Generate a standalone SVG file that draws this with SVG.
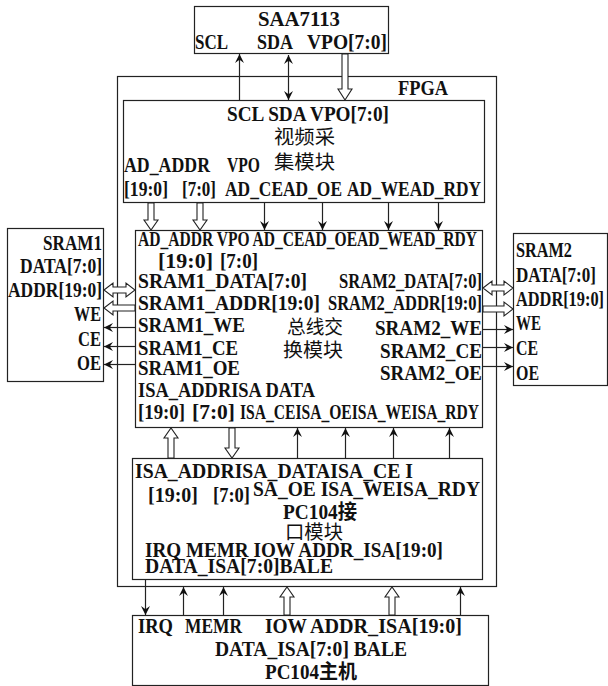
<svg xmlns="http://www.w3.org/2000/svg" width="608" height="686" viewBox="0 0 608 686">
<style>
.box{fill:#fff;stroke:#222;stroke-width:1.2}
.ln{fill:none;stroke:#222;stroke-width:1.2}
.ho{fill:#fff;stroke:#222;stroke-width:1.1}
text{font-family:"Liberation Serif","Noto Sans CJK SC",serif;font-size:20px;font-weight:bold;fill:#111}
.c{font-family:"Noto Sans CJK SC",sans-serif;font-weight:normal;font-size:19px}
</style>
<defs>
<marker id="a" viewBox="0 0 10 10" refX="10" refY="5" markerUnits="userSpaceOnUse" markerWidth="9" markerHeight="9" orient="auto-start-reverse">
<path d="M0,0 L10,5 L0,10 L3.5,5 z" fill="#111"/>
</marker>
</defs>
<rect width="608" height="686" fill="#fff"/>
<g id="fpga">
<rect class="box" x="117.5" y="76.5" width="379" height="510"/>
<text x="398" y="95" textLength="50" lengthAdjust="spacingAndGlyphs">FPGA</text>
</g>
<g id="saa7113">
<rect class="box" x="194.5" y="6.5" width="194" height="47"/>
<text x="258" y="26" textLength="82" lengthAdjust="spacingAndGlyphs">SAA7113</text>
<text x="195" y="49" textLength="33" lengthAdjust="spacingAndGlyphs">SCL</text>
<text x="257" y="49" textLength="36" lengthAdjust="spacingAndGlyphs">SDA</text>
<text x="307" y="49" textLength="80" lengthAdjust="spacingAndGlyphs">VPO[7:0]</text>
</g>
<g id="video">
<rect class="box" x="123.5" y="100.5" width="361" height="102"/>
<text x="227" y="121" textLength="162" lengthAdjust="spacingAndGlyphs">SCL SDA VPO[7:0]</text>
<text class="c" x="274" y="144" textLength="61" lengthAdjust="spacingAndGlyphs">视频采</text>
<text class="c" x="274" y="169" textLength="61" lengthAdjust="spacingAndGlyphs">集模块</text>
<text x="124" y="172" textLength="86" lengthAdjust="spacingAndGlyphs">AD_ADDR</text>
<text x="227" y="172" textLength="33" lengthAdjust="spacingAndGlyphs">VPO</text>
<text x="124" y="196" textLength="44" lengthAdjust="spacingAndGlyphs">[19:0]</text>
<text x="182" y="196" textLength="34" lengthAdjust="spacingAndGlyphs">[7:0]</text>
<text x="225" y="196" textLength="117" lengthAdjust="spacingAndGlyphs">AD_CEAD_OE</text>
<text x="347" y="196" textLength="134" lengthAdjust="spacingAndGlyphs">AD_WEAD_RDY</text>
</g>
<g id="bus">
<rect class="box" x="135.5" y="230.5" width="347" height="197"/>
<text x="138" y="246" textLength="339" lengthAdjust="spacingAndGlyphs">AD_ADDR VPO AD_CEAD_OEAD_WEAD_RDY</text>
<text x="158" y="268" textLength="55" lengthAdjust="spacingAndGlyphs">[19:0]</text>
<text x="220" y="268" textLength="38" lengthAdjust="spacingAndGlyphs">[7:0]</text>
<text x="138" y="288" textLength="169" lengthAdjust="spacingAndGlyphs">SRAM1_DATA[7:0]</text>
<text x="339" y="288" textLength="143" lengthAdjust="spacingAndGlyphs">SRAM2_DATA[7:0]</text>
<text x="138" y="310" textLength="182" lengthAdjust="spacingAndGlyphs">SRAM1_ADDR[19:0]</text>
<text x="328" y="310" textLength="154" lengthAdjust="spacingAndGlyphs">SRAM2_ADDR[19:0]</text>
<text x="138" y="332" textLength="107" lengthAdjust="spacingAndGlyphs">SRAM1_WE</text>
<text class="c" x="287" y="334" textLength="56" lengthAdjust="spacingAndGlyphs">总线交</text>
<text x="375" y="335" textLength="107" lengthAdjust="spacingAndGlyphs">SRAM2_WE</text>
<text x="138" y="355" textLength="100" lengthAdjust="spacingAndGlyphs">SRAM1_CE</text>
<text class="c" x="283" y="357" textLength="60" lengthAdjust="spacingAndGlyphs">换模块</text>
<text x="380" y="358" textLength="102" lengthAdjust="spacingAndGlyphs">SRAM2_CE</text>
<text x="138" y="375" textLength="102" lengthAdjust="spacingAndGlyphs">SRAM1_OE</text>
<text x="380" y="380" textLength="102" lengthAdjust="spacingAndGlyphs">SRAM2_OE</text>
<text x="138" y="397" textLength="177" lengthAdjust="spacingAndGlyphs">ISA_ADDRISA DATA</text>
<text x="138" y="419" textLength="47" lengthAdjust="spacingAndGlyphs">[19:0]</text>
<text x="192" y="419" textLength="43" lengthAdjust="spacingAndGlyphs">[7:0]</text>
<text x="240" y="419" textLength="239" lengthAdjust="spacingAndGlyphs">ISA_CEISA_OEISA_WEISA_RDY</text>
</g>
<g id="sram1">
<rect class="box" x="7.5" y="228.5" width="96" height="153"/>
<text x="43" y="250" textLength="59" lengthAdjust="spacingAndGlyphs">SRAM1</text>
<text x="20" y="273" textLength="82" lengthAdjust="spacingAndGlyphs">DATA[7:0]</text>
<text x="8" y="297" textLength="94" lengthAdjust="spacingAndGlyphs">ADDR[19:0]</text>
<text x="74" y="321" textLength="27" lengthAdjust="spacingAndGlyphs">WE</text>
<text x="78" y="346" textLength="23" lengthAdjust="spacingAndGlyphs">CE</text>
<text x="77" y="370" textLength="24" lengthAdjust="spacingAndGlyphs">OE</text>
</g>
<g id="sram2">
<rect class="box" x="513.5" y="233.5" width="94" height="152"/>
<text x="516" y="257" textLength="56" lengthAdjust="spacingAndGlyphs">SRAM2</text>
<text x="516" y="282" textLength="80" lengthAdjust="spacingAndGlyphs">DATA[7:0]</text>
<text x="516" y="306" textLength="88" lengthAdjust="spacingAndGlyphs">ADDR[19:0]</text>
<text x="516" y="330" textLength="25" lengthAdjust="spacingAndGlyphs">WE</text>
<text x="516" y="355" textLength="22" lengthAdjust="spacingAndGlyphs">CE</text>
<text x="516" y="380" textLength="23" lengthAdjust="spacingAndGlyphs">OE</text>
</g>
<g id="pc104if">
<rect class="box" x="132.5" y="458.5" width="350" height="121"/>
<text x="135" y="478" textLength="278" lengthAdjust="spacingAndGlyphs">ISA_ADDRISA_DATAISA_CE I</text>
<text x="148" y="502" textLength="50" lengthAdjust="spacingAndGlyphs">[19:0]</text>
<text x="213" y="502" textLength="37" lengthAdjust="spacingAndGlyphs">[7:0]</text>
<text x="253" y="496" textLength="227" lengthAdjust="spacingAndGlyphs">SA_OE ISA_WEISA_RDY</text>
<text x="283" y="519" textLength="74" lengthAdjust="spacingAndGlyphs">PC104接</text>
<text class="c" x="285" y="539" textLength="58" lengthAdjust="spacingAndGlyphs">口模块</text>
<text x="145" y="557" textLength="298" lengthAdjust="spacingAndGlyphs">IRQ MEMR IOW ADDR_ISA[19:0]</text>
<text x="145" y="573" textLength="188" lengthAdjust="spacingAndGlyphs">DATA_ISA[7:0]BALE</text>
</g>
<g id="pc104host">
<rect class="box" x="132.5" y="615.5" width="356" height="70"/>
<text x="138" y="633" textLength="35" lengthAdjust="spacingAndGlyphs">IRQ</text>
<text x="185" y="633" textLength="57" lengthAdjust="spacingAndGlyphs">MEMR</text>
<text x="265" y="633" textLength="42" lengthAdjust="spacingAndGlyphs">IOW</text>
<text x="310" y="633" textLength="152" lengthAdjust="spacingAndGlyphs">ADDR_ISA[19:0]</text>
<text x="215" y="656" textLength="192" lengthAdjust="spacingAndGlyphs">DATA_ISA[7:0] BALE</text>
<text x="265" y="679" textLength="92" lengthAdjust="spacingAndGlyphs">PC104主机</text>
</g>
<g id="connectors">
<line class="ln" x1="239.5" y1="100" x2="239.5" y2="54" marker-end="url(#a)"/>
<line class="ln" x1="288.5" y1="55" x2="288.5" y2="100" marker-start="url(#a)" marker-end="url(#a)"/>
<polygon class="ho" points="342,54 348,54 348,89 352,89 345,100 338,89 342,89"/>
<polygon class="ho" points="148,203 154,203 154,220 158,220 151,230 144,220 148,220"/>
<polygon class="ho" points="197,203 203,203 203,220 207,220 200,230 193,220 197,220"/>
<line class="ln" x1="264.5" y1="203" x2="264.5" y2="230" marker-end="url(#a)"/>
<line class="ln" x1="322.5" y1="203" x2="322.5" y2="230" marker-end="url(#a)"/>
<line class="ln" x1="388.5" y1="203" x2="388.5" y2="230" marker-end="url(#a)"/>
<line class="ln" x1="438.5" y1="203" x2="438.5" y2="230" marker-end="url(#a)"/>
<polygon class="ho" points="104,290 113,283 113,287 126,287 126,283 135,290 126,297 126,293 113,293 113,297"/>
<polygon class="ho" points="104,308 113,301 113,305 135,305 135,311 113,311 113,315"/>
<line class="ln" x1="135" y1="327.5" x2="104" y2="327.5" marker-end="url(#a)"/>
<line class="ln" x1="135" y1="346.5" x2="104" y2="346.5" marker-end="url(#a)"/>
<line class="ln" x1="135" y1="364.5" x2="104" y2="364.5" marker-end="url(#a)"/>
<polygon class="ho" points="483,288 492,281 492,285 504,285 504,281 513,288 504,295 504,291 492,291 492,295"/>
<polygon class="ho" points="513,309 504,302 504,306 483,306 483,312 504,312 504,316"/>
<line class="ln" x1="483" y1="329.5" x2="513" y2="329.5" marker-end="url(#a)"/>
<line class="ln" x1="483" y1="347.5" x2="513" y2="347.5" marker-end="url(#a)"/>
<line class="ln" x1="483" y1="366.5" x2="513" y2="366.5" marker-end="url(#a)"/>
<polygon class="ho" points="168,458 174,458 174,438 178,438 171,428 164,438 168,438"/>
<polygon class="ho" points="229,428 235,428 235,448 239,448 232,458 225,448 229,448"/>
<line class="ln" x1="297.5" y1="458" x2="297.5" y2="428" marker-end="url(#a)"/>
<line class="ln" x1="345.5" y1="458" x2="345.5" y2="428" marker-end="url(#a)"/>
<line class="ln" x1="393.5" y1="458" x2="393.5" y2="428" marker-end="url(#a)"/>
<line class="ln" x1="449.5" y1="458" x2="449.5" y2="428" marker-end="url(#a)"/>
<line class="ln" x1="145.5" y1="580" x2="145.5" y2="615" marker-end="url(#a)"/>
<line class="ln" x1="183.5" y1="615" x2="183.5" y2="587" marker-end="url(#a)"/>
<line class="ln" x1="223.5" y1="615" x2="223.5" y2="587" marker-end="url(#a)"/>
<polygon class="ho" points="284,615 290,615 290,597 294,597 287,587 280,597 284,597"/>
<polygon class="ho" points="389,615 395,615 395,597 399,597 392,587 385,597 389,597"/>
<line class="ln" x1="460.5" y1="615" x2="460.5" y2="587" marker-end="url(#a)"/>
</g>
</svg>
